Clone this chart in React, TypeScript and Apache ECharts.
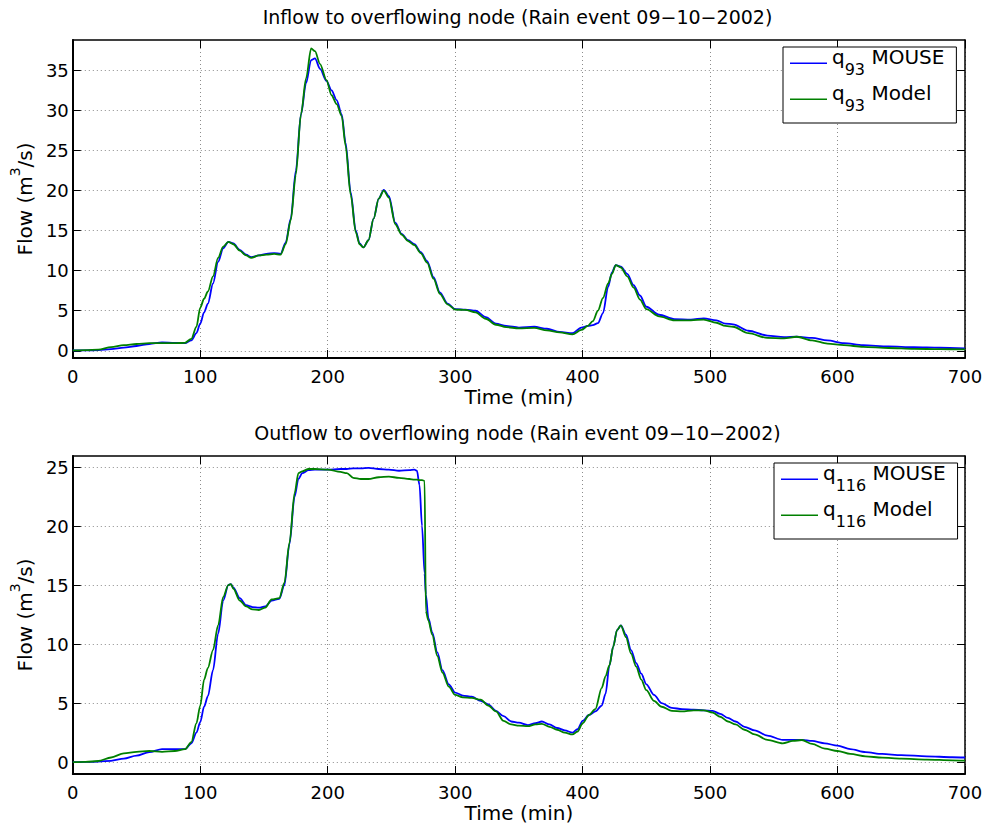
import React, { useEffect, useRef } from 'react';
import * as echarts from 'echarts';

const FONT = '"DejaVu Sans", sans-serif';

// ---------- tick labels / ranges ----------
const xTicks = [0, 100, 200, 300, 400, 500, 600, 700];
const yTicksInflow = [0, 5, 10, 15, 20, 25, 30, 35];
const yTicksOutflow = [0, 5, 10, 15, 20, 25];
const inflowRange = [-0.9, 38.8];
const outflowRange = [-1, 25.95];

const titles = [
  'Inflow to overflowing node (Rain event 09\u221210\u22122002)',
  'Outflow to overflowing node (Rain event 09\u221210\u22122002)',
];
const inflowNames = ['q93 MOUSE', 'q93 Model'];
const outflowNames = ['q116 MOUSE', 'q116 Model'];

// ---------- inflow (top) ----------
const inflowTime = [
  0, 10, 20, 30, 40, 50, 60, 70, 80, 88,
  93, 97, 100, 103, 106, 110, 114, 118, 122, 126,
  131, 136, 140, 146, 152, 158, 163, 167, 171, 175,
  179, 183, 187, 190, 194, 199, 203, 207, 211, 214,
  218, 222, 225, 228, 232, 236, 240, 244, 248, 253,
  258, 263, 268, 273, 278, 283, 288, 294, 300, 308,
  316, 324, 332, 340, 350, 362, 372, 382, 392, 399,
  404, 408, 412, 416, 420, 423, 426, 430, 435, 440,
  445, 450, 460, 472, 485, 495, 505, 512, 518, 530,
  545, 558, 568, 580, 592, 605, 620, 640, 660, 680,
  700,
];
const inflowMouse = [
  0.05, 0.05, 0.08, 0.2, 0.4, 0.6, 0.85, 1.05, 1.0, 0.95,
  1.3, 2.2, 3.4, 4.8, 5.9, 8.4, 11.1, 12.8, 13.6, 13.4,
  12.6, 12.0, 11.7, 11.9, 12.1, 12.2, 12.1, 13.5, 16.5, 22.5,
  29.5, 33.4, 36.3, 36.5, 35.2, 33.7, 32.5, 31.3, 29.5, 26.0,
  19.8, 15.0, 13.4, 12.9, 13.8, 16.5, 19.0, 20.1, 19.3, 16.0,
  14.6, 13.8, 13.3, 12.3, 11.2, 9.2, 7.3, 5.9, 5.2, 5.15,
  5.0, 4.2, 3.4, 3.1, 2.9, 3.0, 2.75, 2.35, 2.2, 2.9,
  3.1, 3.2, 3.45, 4.7, 8.0, 9.8, 10.7, 10.5, 9.6, 8.2,
  6.9, 5.5, 4.5, 3.95, 3.9, 4.05, 3.8, 3.4, 3.3, 2.5,
  1.9, 1.7, 1.75, 1.6, 1.3, 0.95, 0.7, 0.55, 0.45, 0.38,
  0.3,
];
const inflowModel = [
  0.05, 0.08, 0.15, 0.45, 0.7, 0.85, 0.95, 0.95, 0.95, 1.0,
  1.5, 3.0, 5.4, 6.5, 7.4, 9.3, 11.6, 13.0, 13.6, 13.3,
  12.5, 11.9, 11.6, 11.9, 12.0, 12.1, 12.0, 13.3, 16.3, 22.0,
  29.5, 34.0, 37.75, 37.4, 35.8, 33.8, 31.9, 30.8, 29.3, 25.6,
  19.5, 14.8, 13.3, 12.9, 13.8, 16.5, 19.0, 20.0, 19.1, 15.8,
  14.5, 13.7, 13.2, 12.2, 11.0, 9.0, 7.1, 5.8, 5.15, 5.1,
  4.8, 4.0, 3.25, 2.95, 2.8, 2.85, 2.55, 2.3, 2.05, 2.6,
  3.1, 3.7, 5.0, 6.6, 8.4, 9.6, 10.7, 10.4, 9.3, 7.9,
  6.4, 5.2, 4.3, 3.8, 3.8, 3.9, 3.5, 3.1, 3.0, 2.2,
  1.6, 1.55, 1.75, 1.3, 0.9, 0.7, 0.5, 0.35, 0.25, 0.2,
  0.17,
];

// ---------- outflow (bottom) ----------
const outflowTime = [
  0, 10, 20, 30, 40, 50, 60, 70, 80, 88,
  93, 97, 100, 103, 106, 110, 114, 118, 122, 124,
  126, 131, 136, 141, 146, 151, 156, 162, 166, 170,
  174, 177, 180, 185, 190, 200, 210, 215, 220, 226,
  232, 240, 248, 256, 264, 268, 270, 272, 274, 276,
  277, 279, 282, 286, 290, 295, 300, 306, 313, 320,
  326, 332, 338, 344, 350, 357, 363, 368, 374, 380,
  386, 392, 396, 400, 405, 410, 415, 418, 421, 424,
  427, 430, 434, 438, 442, 446, 450, 456, 462, 470,
  478, 487, 495, 502, 508, 514, 520, 527, 535, 545,
  557, 565, 572, 580, 590, 600, 610, 622, 635, 650,
  670, 690, 700,
];
const outflowMouse = [
  0, 0.02, 0.05, 0.12, 0.3, 0.55, 0.85, 1.1, 1.1, 1.1,
  1.6, 2.5, 3.4, 4.7, 5.6, 7.8, 10.9, 13.7, 15.0, 15.1,
  14.8, 13.9, 13.3, 13.15, 13.1, 13.2, 13.7, 13.85, 15.0, 18.5,
  22.5, 24.0, 24.5, 24.75, 24.8, 24.8, 24.85, 24.85, 24.9, 24.9,
  24.95, 24.85, 24.8, 24.7, 24.75, 24.8, 24.7, 23.5, 20.0, 16.0,
  14.2, 12.2, 11.0, 9.3, 7.8, 6.6, 5.9, 5.65, 5.55, 5.2,
  4.9, 4.35, 3.9, 3.45, 3.35, 3.15, 3.3, 3.45, 3.2, 2.9,
  2.7, 2.5, 2.8, 3.5, 4.0, 4.3, 4.8, 5.8, 8.2, 9.8,
  11.2, 11.6, 10.8, 9.5, 8.4, 7.5, 6.6, 5.7, 5.0, 4.6,
  4.5, 4.45, 4.4, 4.35, 4.1, 3.75, 3.45, 3.0, 2.7, 2.25,
  1.9, 1.9, 1.9, 1.8, 1.6, 1.4, 1.1, 0.85, 0.7, 0.6,
  0.5, 0.42, 0.4,
];
const outflowModel = [
  0, 0.02, 0.1, 0.4, 0.75, 0.88, 0.95, 0.88, 0.95, 1.1,
  1.7, 3.3, 4.8, 7.0, 8.0, 9.5, 11.6, 14.0, 15.0, 15.1,
  14.7, 13.7, 13.2, 12.95, 12.9, 13.1, 13.8, 13.9, 15.2, 18.6,
  22.8, 24.5, 24.65, 24.85, 24.85, 24.8, 24.6, 24.5, 24.1, 24.0,
  24.0, 24.15, 24.2, 24.1, 24.0, 23.95, 23.95, 23.9, 23.9, 23.85,
  12.8, 12.0, 10.8, 9.0, 7.6, 6.4, 5.7, 5.5, 5.45, 5.3,
  4.8, 4.3, 3.5, 3.2, 3.1, 3.05, 3.2, 3.25, 3.0, 2.75,
  2.5, 2.35, 2.6, 3.3, 4.0, 4.5, 6.3, 7.3, 8.2, 9.8,
  11.2, 11.6, 10.6, 9.2, 8.1, 7.0, 6.1, 5.2, 4.7, 4.35,
  4.3, 4.4, 4.4, 4.2, 3.85, 3.45, 3.2, 2.75, 2.35, 1.9,
  1.6, 1.8, 1.88, 1.55, 1.15, 0.95, 0.7, 0.5, 0.38, 0.3,
  0.22, 0.16, 0.14,
];

const BLUE = '#0000ff';
const GREEN = '#008000';

const zip = (t: number[], v: number[]) => t.map((x, i) => [x, v[i]]);

const legendFormatter = (name: string) => {
  const m = name.match(/^q(\d+) (.*)$/);
  return m ? `{m|q}{s|${m[1]}}{m| ${m[2]}}` : name;
};

const LEGEND_ICON = 'path://M0,0L0.01,0L0.01,0.01Z M0,10.5L37,10.5L37,12L0,12Z';

function makeLegend(names: string[], left: number, top: number) {
  return {
    orient: 'vertical',
    left,
    top,
    padding: [0, 12, 10, 7],
    itemGap: 6,
    itemWidth: 37,
    itemHeight: 12,
    icon: LEGEND_ICON,
    itemStyle: { borderWidth: 0 },
    backgroundColor: '#ffffff',
    borderColor: '#000000',
    borderWidth: 1,
    borderRadius: 0,
    selectedMode: false,
    formatter: legendFormatter,
    textStyle: {
      color: '#000',
      fontFamily: FONT,
      fontSize: 20,
      rich: {
        m: { fontFamily: FONT, fontSize: 20, lineHeight: 22, verticalAlign: 'top', color: '#000' },
        s: { fontFamily: FONT, fontSize: 16, lineHeight: 16, padding: [14, 0, 0, 0], verticalAlign: 'top', color: '#000' },
      },
    },
    data: names,
  };
}

const gridLine = { show: true, lineStyle: { color: '#8c8c8c', width: 1, type: [1, 3] } };
const tickStyle = { show: true, inside: true, length: 8, lineStyle: { color: '#000', width: 1 } };

function bottomX(gridIndex: number) {
  return {
    type: 'value',
    gridIndex,
    position: 'bottom',
    min: xTicks[0],
    max: xTicks[xTicks.length - 1],
    interval: 100,
    axisLine: { show: true, onZero: false, lineStyle: { color: '#000', width: 2 } },
    axisTick: tickStyle,
    axisLabel: { margin: 9, color: '#000', fontFamily: FONT, fontSize: 18 },
    splitLine: gridLine,
    name: 'Time (min)',
    nameLocation: 'middle',
    nameGap: 29,
    nameTextStyle: { color: '#000', fontFamily: FONT, fontSize: 20 },
  };
}
function topX(gridIndex: number) {
  return {
    type: 'value',
    gridIndex,
    position: 'top',
    min: xTicks[0],
    max: xTicks[xTicks.length - 1],
    interval: 100,
    axisLine: { show: true, onZero: false, lineStyle: { color: '#000', width: 1.5 } },
    axisTick: tickStyle,
    axisLabel: { show: false },
    splitLine: { show: false },
  };
}
function leftY(gridIndex: number, range: number[], ticks: number[]) {
  return {
    type: 'value',
    gridIndex,
    position: 'left',
    min: range[0],
    max: range[1],
    axisLine: { show: true, onZero: false, lineStyle: { color: '#000', width: 2 } },
    axisTick: { ...tickStyle, customValues: ticks },
    axisLabel: { margin: 4, color: '#000', fontFamily: FONT, fontSize: 18, customValues: ticks },
    splitLine: gridLine,
    name: '{a|Flow (m}{b|3}{a|/s)}',
    nameLocation: 'middle',
    nameRotate: 90,
    nameGap: 36,
    nameTextStyle: {
      color: '#000',
      fontFamily: FONT,
      fontSize: 20,
      rich: {
        a: { fontFamily: FONT, fontSize: 20, lineHeight: 22, padding: [7, 0, 0, 0], verticalAlign: 'top', color: '#000' },
        b: { fontFamily: FONT, fontSize: 14, lineHeight: 14, verticalAlign: 'top', color: '#000' },
      },
    },
  };
}
function rightY(gridIndex: number, range: number[], ticks: number[]) {
  return {
    type: 'value',
    gridIndex,
    position: 'right',
    min: range[0],
    max: range[1],
    axisLine: { show: true, onZero: false, lineStyle: { color: '#000', width: 1.5 } },
    axisTick: { ...tickStyle, customValues: ticks },
    axisLabel: { show: false, customValues: ticks },
    splitLine: { show: false },
  };
}

function lineSeries(name: string, xi: number, yi: number, data: number[][], color: string) {
  return {
    type: 'line',
    name,
    xAxisIndex: xi,
    yAxisIndex: yi,
    data,
    color,
    smooth: 0.3,
    smoothMonotone: 'x',
    showSymbol: false,
    symbol: 'none',
    lineStyle: { color, width: 1.8 },
    emphasis: { disabled: true },
    silent: true,
  };
}

export default function App() {
  const ref = useRef<HTMLDivElement>(null);
  useEffect(() => {
    document.body.style.margin = '0';
    if (!ref.current) return;
    const chart = echarts.init(ref.current, undefined, { renderer: 'svg' });
    const titleStyle = { color: '#000', fontFamily: FONT, fontSize: 19, fontWeight: 'normal' };
    chart.setOption({
      animation: false,
      backgroundColor: '#ffffff',
      title: [
        { text: titles[0], left: 517.5, top: 7, textAlign: 'center', padding: 0, textStyle: titleStyle },
        { text: titles[1], left: 517.5, top: 423, textAlign: 'center', padding: 0, textStyle: titleStyle },
      ],
      grid: [
        { left: 70, top: 40, width: 895, height: 318 },
        { left: 70, top: 456, width: 895, height: 318 },
      ],
      xAxis: [bottomX(0), topX(0), bottomX(1), topX(1)],
      yAxis: [
        leftY(0, inflowRange, yTicksInflow),
        rightY(0, inflowRange, yTicksInflow),
        leftY(1, outflowRange, yTicksOutflow),
        rightY(1, outflowRange, yTicksOutflow),
      ],
      legend: [makeLegend(inflowNames, 783, 47), makeLegend(outflowNames, 774, 463)],
      series: [
        lineSeries(inflowNames[0], 0, 0, zip(inflowTime, inflowMouse), BLUE),
        lineSeries(inflowNames[1], 0, 0, zip(inflowTime, inflowModel), GREEN),
        lineSeries(outflowNames[0], 2, 2, zip(outflowTime, outflowMouse), BLUE),
        lineSeries(outflowNames[1], 2, 2, zip(outflowTime, outflowModel), GREEN),
      ],
    });
    return () => chart.dispose();
  }, []);
  return <div ref={ref} style={{ width: 987, height: 832 }} />;
}
